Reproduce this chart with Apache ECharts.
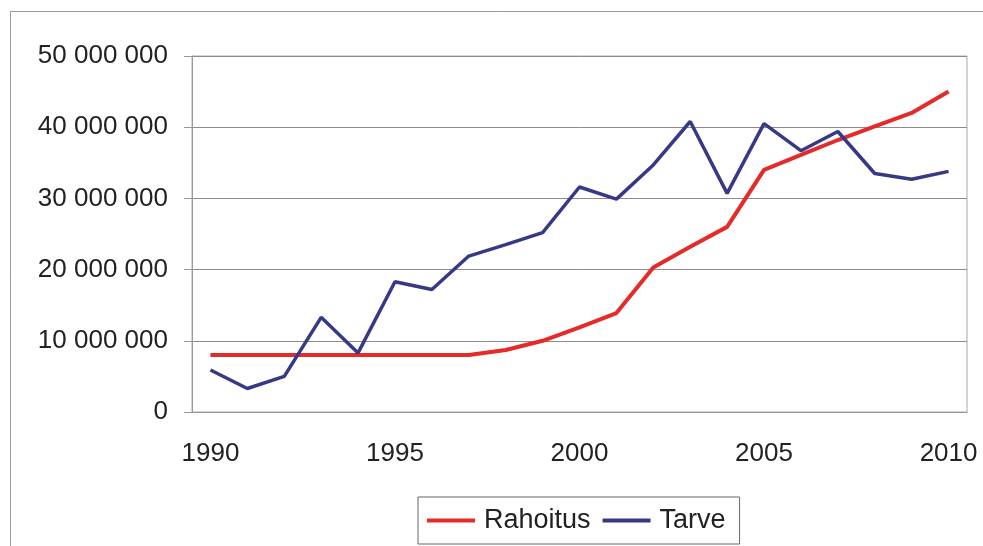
<!DOCTYPE html>
<html>
<head>
<meta charset="utf-8">
<script src="https://cdn.jsdelivr.net/npm/echarts@6/dist/echarts.min.js"></script>
<style>
  html, body { margin: 0; padding: 0; background: #fff; }
  #chart { width: 983px; height: 546px; }
</style>
</head>
<body>
<div id="chart"></div>
<script>
const years = ['1990', '1991', '1992', '1993', '1994', '1995', '1996', '1997', '1998', '1999', '2000',
  '2001', '2002', '2003', '2004', '2005', '2006', '2007', '2008', '2009', '2010']
const rahoitus = [8000000, 8000000, 8000000, 8000000, 8000000, 8000000, 8000000, 8000000, 8700000, 10000000, 11900000,
  13900000, 20300000, 23200000, 26000000, 34000000, 36100000, 38200000, 40100000, 42000000, 45000000]
const tarve = [5900000, 3300000, 5000000, 13300000, 8300000, 18300000, 17200000, 21900000, 23500000, 25200000, 31600000,
  29900000, 34700000, 40800000, 30700000, 40500000, 36700000, 39400000, 33500000, 32700000, 33800000]

const labelFont = { fontFamily: 'Liberation Sans, Arial, sans-serif', fontSize: 26, color: '#222' }

const chart = echarts.init(document.getElementById('chart'))
chart.setOption({
  animation: false,
  backgroundColor: '#fff',
  graphic: [{
    type: 'rect',
    shape: { x: 10.5, y: 11.5, width: 1000, height: 600 },
    style: { fill: 'none', stroke: '#999', lineWidth: 1 },
    silent: true
  }],
  grid: {
    left: 192,
    right: 16,
    top: 56,
    bottom: 134,
    show: true,
    borderColor: '#aaa',
    borderWidth: 1
  },
  legend: {
    left: 418,
    top: 497,
    width: 340,
    data: ['Rahoitus', 'Tarve'],
    icon: 'rect',
    itemWidth: 48,
    itemHeight: 4,
    itemGap: 12,
    padding: [10, 14, 10, 9],
    borderColor: '#666',
    borderWidth: 1,
    textStyle: Object.assign({}, labelFont, { fontSize: 27, padding: [0, 0, 0, 4] })
  },
  xAxis: {
    type: 'category',
    data: years,
    boundaryGap: true,
    axisLine: { lineStyle: { color: '#999' } },
    axisTick: { interval: 4, length: 6, lineStyle: { color: '#999' } },
    axisLabel: Object.assign({ interval: 4, margin: 29 }, labelFont)
  },
  yAxis: {
    type: 'value',
    min: 0,
    max: 50000000,
    interval: 10000000,
    axisLine: { show: true, lineStyle: { color: '#999' } },
    axisTick: { show: true, length: 8, lineStyle: { color: '#999' } },
    splitLine: { lineStyle: { color: '#8c8c8c', width: 1 } },
    axisLabel: Object.assign({
      margin: 24,
      formatter: v => String(v).replace(/\B(?=(\d{3})+(?!\d))/g, ' ')
    }, labelFont)
  },
  series: [
    {
      name: 'Rahoitus',
      type: 'line',
      data: rahoitus,
      symbol: 'none',
      lineStyle: { color: '#e52a2a', width: 4 },
      itemStyle: { color: '#e52a2a' }
    },
    {
      name: 'Tarve',
      type: 'line',
      data: tarve,
      symbol: 'none',
      lineStyle: { color: '#363a86', width: 3.5 },
      itemStyle: { color: '#363a86' }
    }
  ]
})
</script>
</body>
</html>
